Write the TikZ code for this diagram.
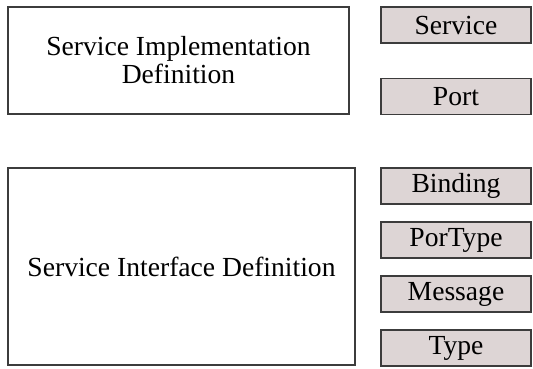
\documentclass[tikz,border=0pt]{standalone}
\usepackage{fontspec}
\setmainfont{Liberation Serif}

\definecolor{partfill}{RGB}{221,213,213}
\definecolor{boxline}{RGB}{60,60,60}

\tikzset{
defbox/.style={draw=boxline, line width=1.5pt, fill=white, inner sep=0pt, align=center},
partbox/.style={draw=boxline, line width=1.5pt, fill=partfill, inner sep=0pt,
minimum width=150pt, minimum height=36pt}
}

\begin{document}
\begin{tikzpicture}[x=1pt,y=-1pt,font=\fontsize{27.6}{28}\selectfont]

\useasboundingbox (0,0) rectangle (533,369);

%%%%%%%%%%%%%%%%%%%%%%%%%%%%%%%%%%%%%%%%%%%%%%%%%%%%%%%%%%
% DEFINITIONS
%%%%%%%%%%%%%%%%%%%%%%%%%%%%%%%%%%%%%%%%%%%%%%%%%%%%%%%%%%

\node[
defbox,
minimum width=341pt,
minimum height=107pt
](impl)
at (178.5,60.5)
{Service Implementation\\Definition};

\node[
defbox,
minimum width=347pt,
minimum height=197pt
](iface)
at (181.5,266.5)
{Service Interface Definition};

%%%%%%%%%%%%%%%%%%%%%%%%%%%%%%%%%%%%%%%%%%%%%%%%%%%%%%%%%%
% ELEMENTS
%%%%%%%%%%%%%%%%%%%%%%%%%%%%%%%%%%%%%%%%%%%%%%%%%%%%%%%%%%

\node[partbox](service) at (456,25) {Service};
\node[partbox](port) at (456,96.5) {Port};

\node[partbox](binding) at (456,186) {Binding};
\node[partbox](portype) at (456,240) {PorType};
\node[partbox](message) at (456,294) {Message};
\node[partbox](type) at (456,348) {Type};

\end{tikzpicture}
\end{document}
